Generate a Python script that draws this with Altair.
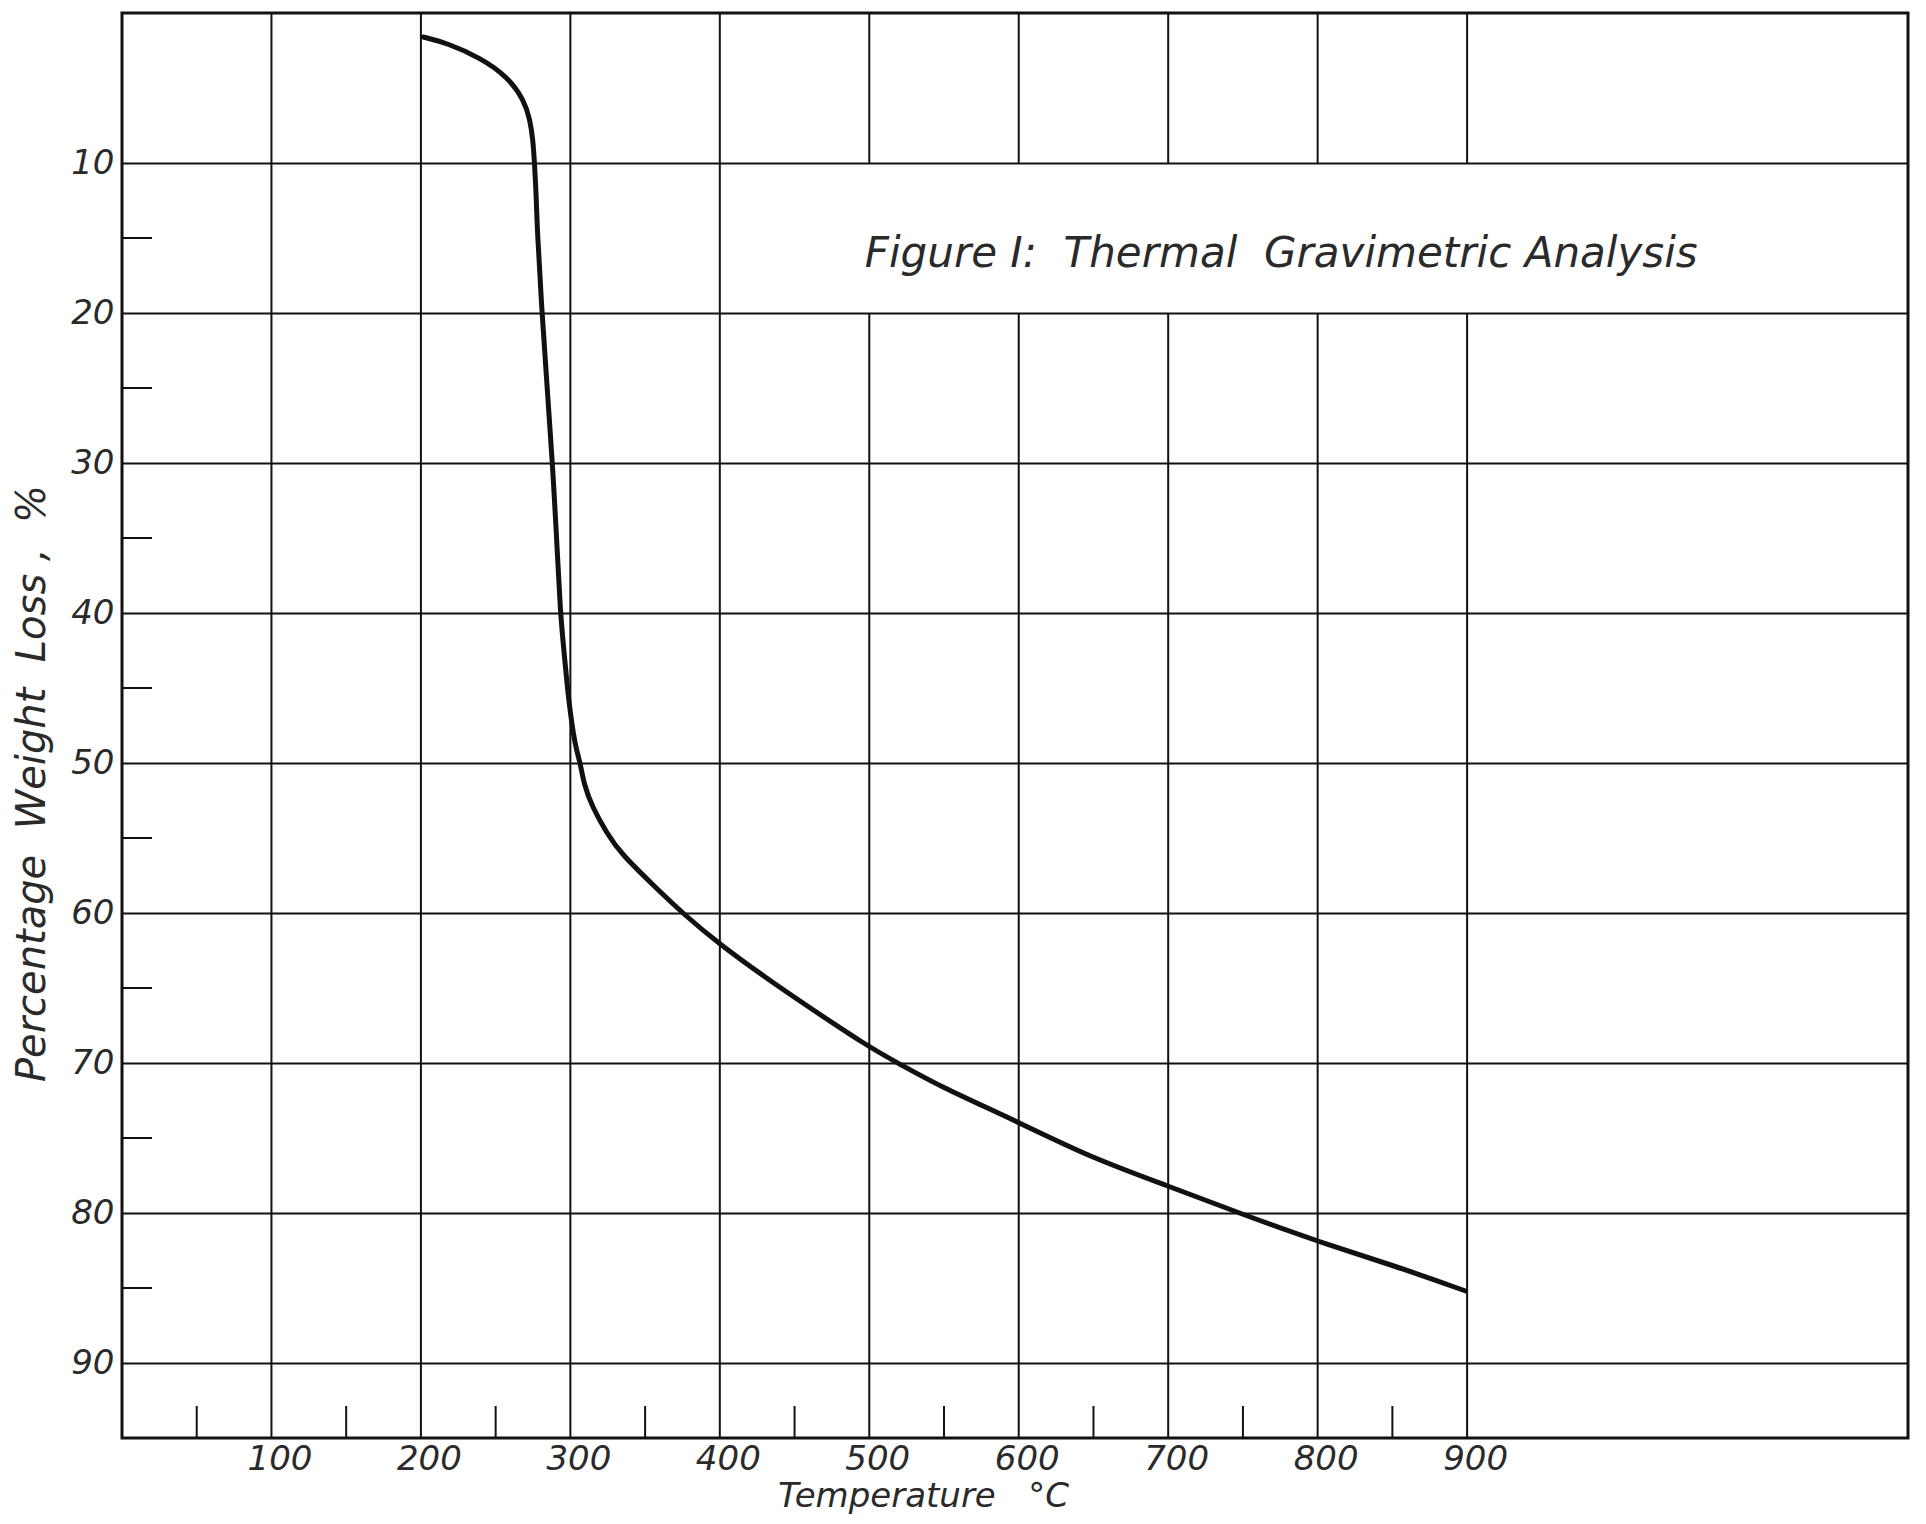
import altair as alt
import pandas as pd

# ---- data ----
temperature_c = [201.5, 217.5, 240, 258, 269, 273, 275, 276, 277.3, 277.7, 281, 284.5,
                 288, 290.6, 293.3, 295.5, 297.8, 300, 303.3, 306.7, 309, 314.5, 324.5,
                 333.5, 356, 376, 400, 432, 454, 499, 521, 546, 599, 648, 700, 750,
                 800, 851, 899]
weight_loss_pct = [1.6, 2.0, 3.0, 4.25, 5.8, 7.1, 8.5, 10.0, 12.5, 14.2, 20.0, 25.0,
                   30.0, 34.6, 40.0, 42.3, 44.8, 46.7, 48.9, 50.0, 51.4, 52.9, 54.7,
                   56.0, 58.2, 60.1, 62.1, 64.4, 65.9, 68.9, 70.1, 71.5, 73.9, 76.3,
                   78.2, 80.1, 81.9, 83.5, 85.2]

x_label_values = [100, 200, 300, 400, 500, 600, 700, 800, 900]
y_label_values = [10, 20, 30, 40, 50, 60, 70, 80, 90]
x_minor_values = [50, 150, 250, 350, 450, 550, 650, 750, 850]
y_minor_values = [15, 25, 35, 45, 55, 65, 75, 85]
grid_full = [100, 200, 300, 400]
grid_split = [500, 600, 700, 800, 900]
title_cell = [10, 20]
x_domain = [0, 1195]
y_domain = [0, 95]
NB = "\u00a0"
fig_title = f"Figure I:{NB} Thermal{NB} Gravimetric Analysis"
x_title = f"Temperature{NB}{NB} °C"
y_title = f"Percentage{NB} Weight{NB} Loss{NB},{NB} %"
title_anchor = [497, 16.9]

FONT = "DejaVu Sans"
INK = "#111111"
TXT = "#2a2a2a"
W, H = 1786, 1425

curve = pd.DataFrame({"temp": temperature_c, "loss": weight_loss_pct})

seg_rows = []
for t in grid_full:
    seg_rows.append({"t": t, "y0": y_domain[0], "y1": y_domain[1]})
for t in grid_split:
    seg_rows.append({"t": t, "y0": y_domain[0], "y1": title_cell[0]})
    seg_rows.append({"t": t, "y0": title_cell[1], "y1": y_domain[1]})
segs = pd.DataFrame(seg_rows)

xs = alt.Scale(domain=x_domain, nice=False, zero=False)
ys = alt.Scale(domain=y_domain, reverse=True, nice=False, zero=False)

x_axis = alt.Axis(values=x_label_values, grid=False, ticks=False, domain=False,
                  labelFont=FONT, labelFontSize=34, labelFontStyle="italic",
                  labelColor=TXT, labelPadding=4, labelOffset=8,
                  title=x_title, titleFont=FONT, titleFontSize=34,
                  titleFontStyle="italic", titleFontWeight="normal", titleColor=TXT,
                  titleX=801, titleY=68, titleAlign="center", titleBaseline="alphabetic")
y_axis = alt.Axis(values=y_label_values, grid=True, gridColor=INK, gridWidth=2,
                  gridOpacity=1, ticks=False, domain=False,
                  labelFont=FONT, labelFontSize=34, labelFontStyle="italic",
                  labelColor=TXT, labelPadding=8,
                  title=y_title, titleFont=FONT, titleFontSize=40,
                  titleFontStyle="italic", titleFontWeight="normal", titleColor=TXT,
                  titleAngle=270, titleX=-78, titleY=770, titleAlign="center",
                  titleBaseline="alphabetic")

X = lambda f: alt.X(f, scale=xs, axis=x_axis)
Y = lambda f: alt.Y(f, scale=ys, axis=y_axis)

line = alt.Chart(curve).mark_line(color=INK, strokeWidth=5, interpolate="basis",
                                  strokeCap="round").encode(
    x=X("temp:Q"), y=Y("loss:Q"))

vgrid = alt.Chart(segs).mark_rule(color=INK, strokeWidth=2).encode(
    x=X("t:Q"), y=Y("y0:Q"), y2="y1:Q")

yminor = alt.Chart(pd.DataFrame({"v": y_minor_values})).mark_rule(
    color=INK, strokeWidth=2).encode(
    y=Y("v:Q"), x=alt.value(0), x2=alt.value(30))

xminor = alt.Chart(pd.DataFrame({"v": x_minor_values})).mark_rule(
    color=INK, strokeWidth=2).encode(
    x=X("v:Q"), y=alt.value(H), y2=alt.value(H - 32))

title = alt.Chart(pd.DataFrame({"label": [fig_title]})).mark_text(
    font=FONT, fontSize=42, fontStyle="italic", color=TXT, align="left",
    baseline="alphabetic").encode(
    x=alt.datum(title_anchor[0], scale=xs),
    y=alt.datum(title_anchor[1], scale=ys),
    text="label:N",
)

chart = alt.layer(vgrid, yminor, xminor, line, title).properties(
    width=W, height=H,
    padding={"left": 114, "top": 5, "right": 8, "bottom": 76},
    autosize=alt.AutoSizeParams(type="none"),
    background="white",
).configure_view(stroke=INK, strokeWidth=3)

chart.save("out.html", embed_options={"renderer": "svg", "actions": False})
